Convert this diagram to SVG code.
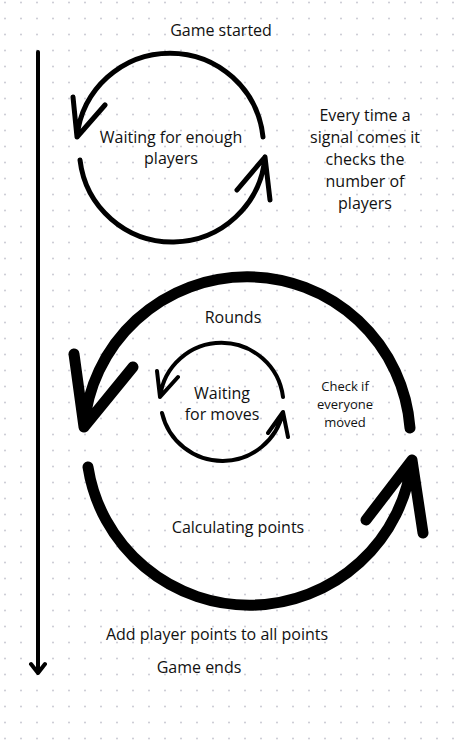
<svg xmlns="http://www.w3.org/2000/svg" width="466" height="744" viewBox="0 0 466 744">
<defs>
<pattern id="dots" x="0" y="0" width="16" height="16" patternUnits="userSpaceOnUse">
<circle cx="5" cy="2.5" r="1" fill="#c9c9d3"/>
</pattern>
<style>
text{font-family:"Open Sans","Noto Sans","Liberation Sans",sans-serif;fill:#111;text-anchor:middle}
.t16{font-size:16px}
.t13{font-size:13px}
.c{fill:none;stroke:#000;stroke-linecap:round;stroke-linejoin:round}
.w4{stroke-width:4}
.w5{stroke-width:5}
.w11{stroke-width:11}
</style>
</defs>
<rect width="466" height="744" fill="#fff"/>
<rect width="466" height="744" fill="url(#dots)"/>
<g id="connectors">
<path class="c w4" d="M38,52 L38,673 M31,664 L38,673 L45,664" stroke-linecap="butt"/>
<path class="c w5" d="M263,137 A93.5,93.5 0 0 0 77,137 M73,97 L77,137 L105,105"/>
<path class="c w5" d="M80,160 A93,93 0 0 0 265,157 M237,190 L265,157 L270,200"/>
<path class="c w11" d="M410,428 A163.5,163.5 0 0 0 84,427 M74,354 L84,427 L133,367"/>
<path class="c w11" d="M88,467 A163.5,163.5 0 0 0 412,460 M366,520 L412,460 L423,533"/>
<path class="c w4" d="M283,397 A62,62 0 0 0 160,397 M157,371 L160,397 L178,377"/>
<path class="c w4" d="M162,413 A62,62 0 0 0 283,412 M268,433 L283,412 L288,437"/>
</g>
<g id="game-started"><text class="t16" x="221" y="36">Game started</text></g>
<g id="waiting-players"><text class="t16" x="171" y="143">Waiting for enough</text><text class="t16" x="171" y="164">players</text></g>
<g id="signal-note"><text class="t16" x="365" y="121">Every time a</text><text class="t16" x="365" y="143">signal comes it</text><text class="t16" x="365" y="165">checks the</text><text class="t16" x="365" y="187">number of</text><text class="t16" x="365" y="209">players</text></g>
<g id="rounds"><text class="t16" x="233" y="323">Rounds</text></g>
<g id="waiting-moves"><text class="t16" x="222" y="399">Waiting</text><text class="t16" x="222" y="420">for moves</text></g>
<g id="check-moved"><text class="t13" x="345" y="391">Check if</text><text class="t13" x="345" y="409">everyone</text><text class="t13" x="345" y="427">moved</text></g>
<g id="calculating"><text class="t16" x="238" y="533">Calculating points</text></g>
<g id="add-points"><text class="t16" x="217" y="640">Add player points to all points</text></g>
<g id="game-ends"><text class="t16" x="199" y="673">Game ends</text></g>
</svg>
